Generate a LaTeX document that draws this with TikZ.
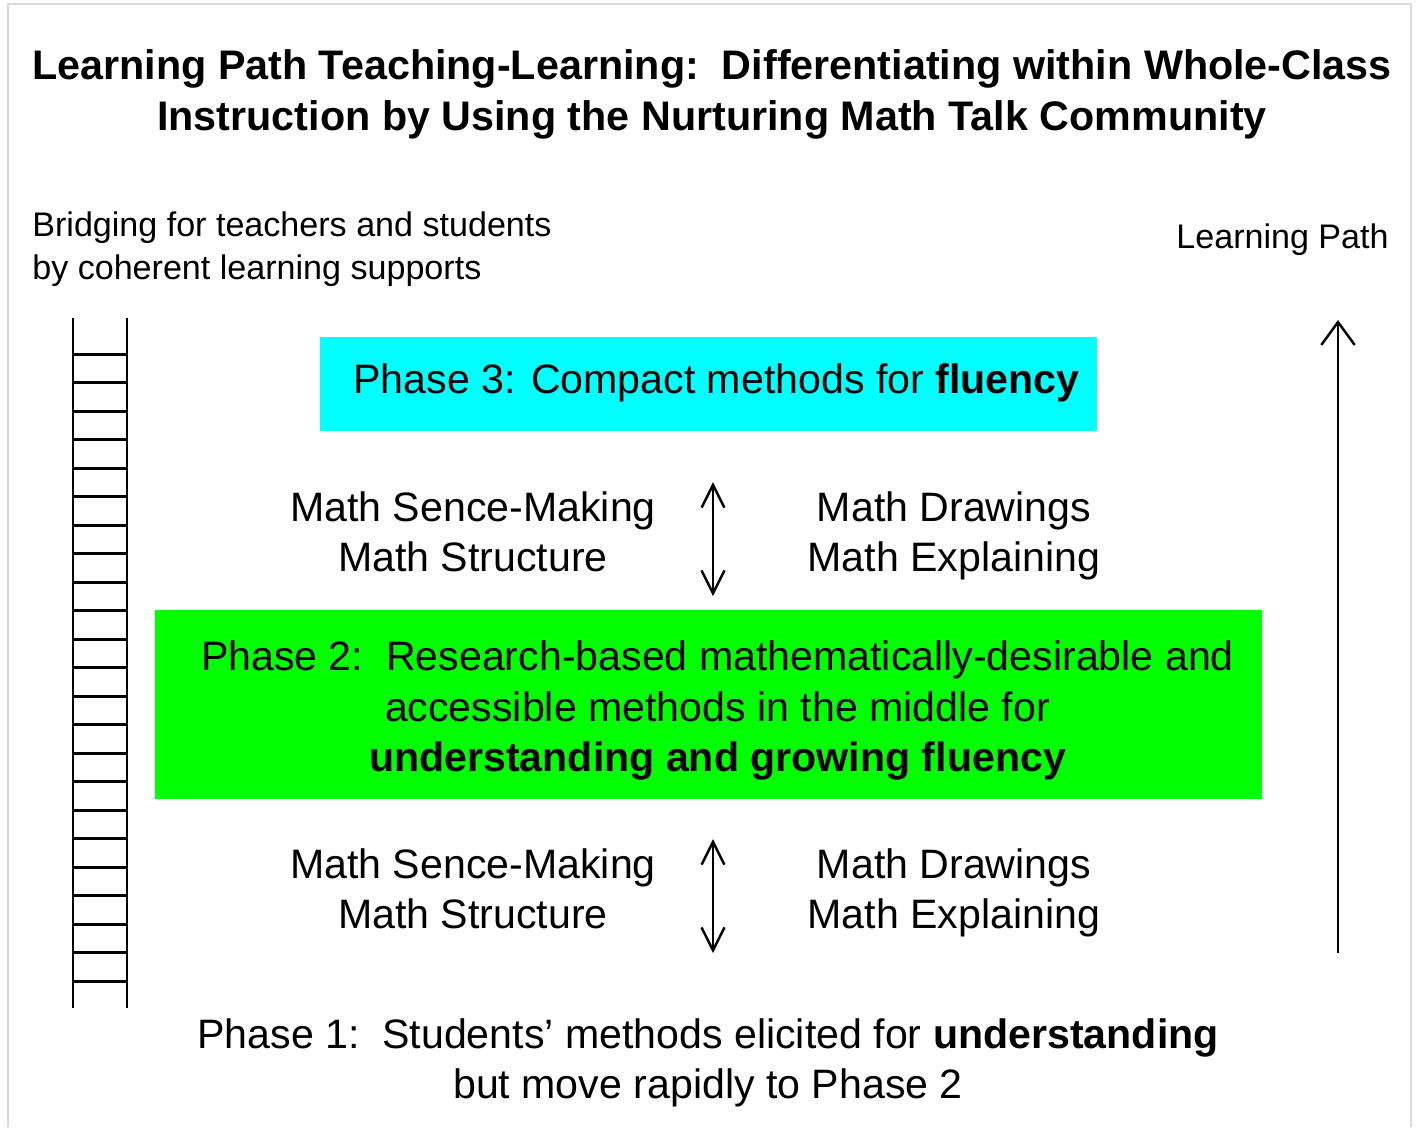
\documentclass[tikz,border=0pt]{standalone}
\usepackage{fontspec}
\setmainfont{Liberation Sans}
\usetikzlibrary{arrows.meta,positioning}
\definecolor{framegray}{RGB}{217,217,217}
\definecolor{phasecyan}{RGB}{0,255,255}
\definecolor{phasegreen}{RGB}{0,255,0}

\begin{document}
\begin{tikzpicture}[x=0.02cm,y=-0.02cm,
        title/.style={font=\bfseries\fontsize{23.5}{29}\selectfont, align=center, inner sep=0pt},
        side/.style={font=\fontsize{19.4}{24.5}\selectfont, align=left, inner sep=0pt},
        txt/.style={font=\fontsize{23.4}{28.5}\selectfont, align=center, inner sep=0pt},
        rail/.style={line width=1.7pt},
        updown/.style={line width=1.4pt, {Straight Barb[length=13pt,width=13pt]}-{Straight Barb[length=13pt,width=13pt]}},
        uparrow/.style={line width=1.4pt, -{Straight Barb[length=13pt,width=19pt]}}]
            \useasboundingbox (0,0) rectangle (1418,1127);
            \draw[framegray, line width=1.6pt] (8,1127) -- (8,4) -- (1411,4) -- (1411,1127);
            \node[title] (title) at (712,94) {Learning Path Teaching-Learning:\ \ Differentiating within Whole-Class\\Instruction by Using the Nurturing Math Talk Community};
            \node[side, anchor=west] (bridging) at (32,249) {Bridging for teachers and students\\by coherent learning supports};
            \node[side, anchor=east] (pathlabel) at (1389,240) {Learning Path};
            % ladder
            \draw[rail] (73,318) -- (73,1008) (127,318) -- (127,1008);
            \foreach \i in {0,...,22}
                \draw[rail] (73,354+28.5*\i) -- (127,354+28.5*\i);
            % learning path arrow
            \coordinate (pathbot) at (1338,953);
            \coordinate (pathtop) at (1338,320);
            \draw[uparrow] (pathbot) -- (pathtop);
            % phase 3
            \node[fill=phasecyan, minimum width=777*0.02cm, minimum height=94*0.02cm, inner sep=0pt] (phase3) at (708.5,383.5) {};
            \node[txt] (phase3text) at (716.5,383) {Phase 3: Compact methods for \textbf{fluency}};
            % between phase 3 and phase 2
            \node[txt] (sense3) at (473,532) {Math Sence-Making\\Math Structure};
            \node[txt] (draw3) at (954,535.5) {Math Drawings\\Math Explaining};
            \coordinate (top3) at (713,482);
            \coordinate (bot3) at (713,596);
            \draw[updown] (top3) -- (bot3);
            % phase 2
            \node[fill=phasegreen, minimum width=1107*0.02cm, minimum height=189*0.02cm, inner sep=0pt] (phase2) at (708.5,704.5) {};
            \node[txt] (phase2text) at (717.5,710.5) {Phase 2:\ \ Research-based mathematically-desirable and\\accessible methods in the middle for\\\textbf{understanding and growing fluency}};
            % between phase 2 and phase 1
            \node[txt] (sense2) at (473,889) {Math Sence-Making\\Math Structure};
            \node[txt] (draw2) at (954,892.5) {Math Drawings\\Math Explaining};
            \coordinate (top2) at (713,839);
            \coordinate (bot2) at (713,953);
            \draw[updown] (top2) -- (bot2);
            % phase 1
            \node[txt] (phase1text) at (708,1063) {Phase 1:\ \ Students’ methods elicited for \textbf{understanding}\\but move rapidly to Phase 2};
        \end{tikzpicture}
\end{document}
